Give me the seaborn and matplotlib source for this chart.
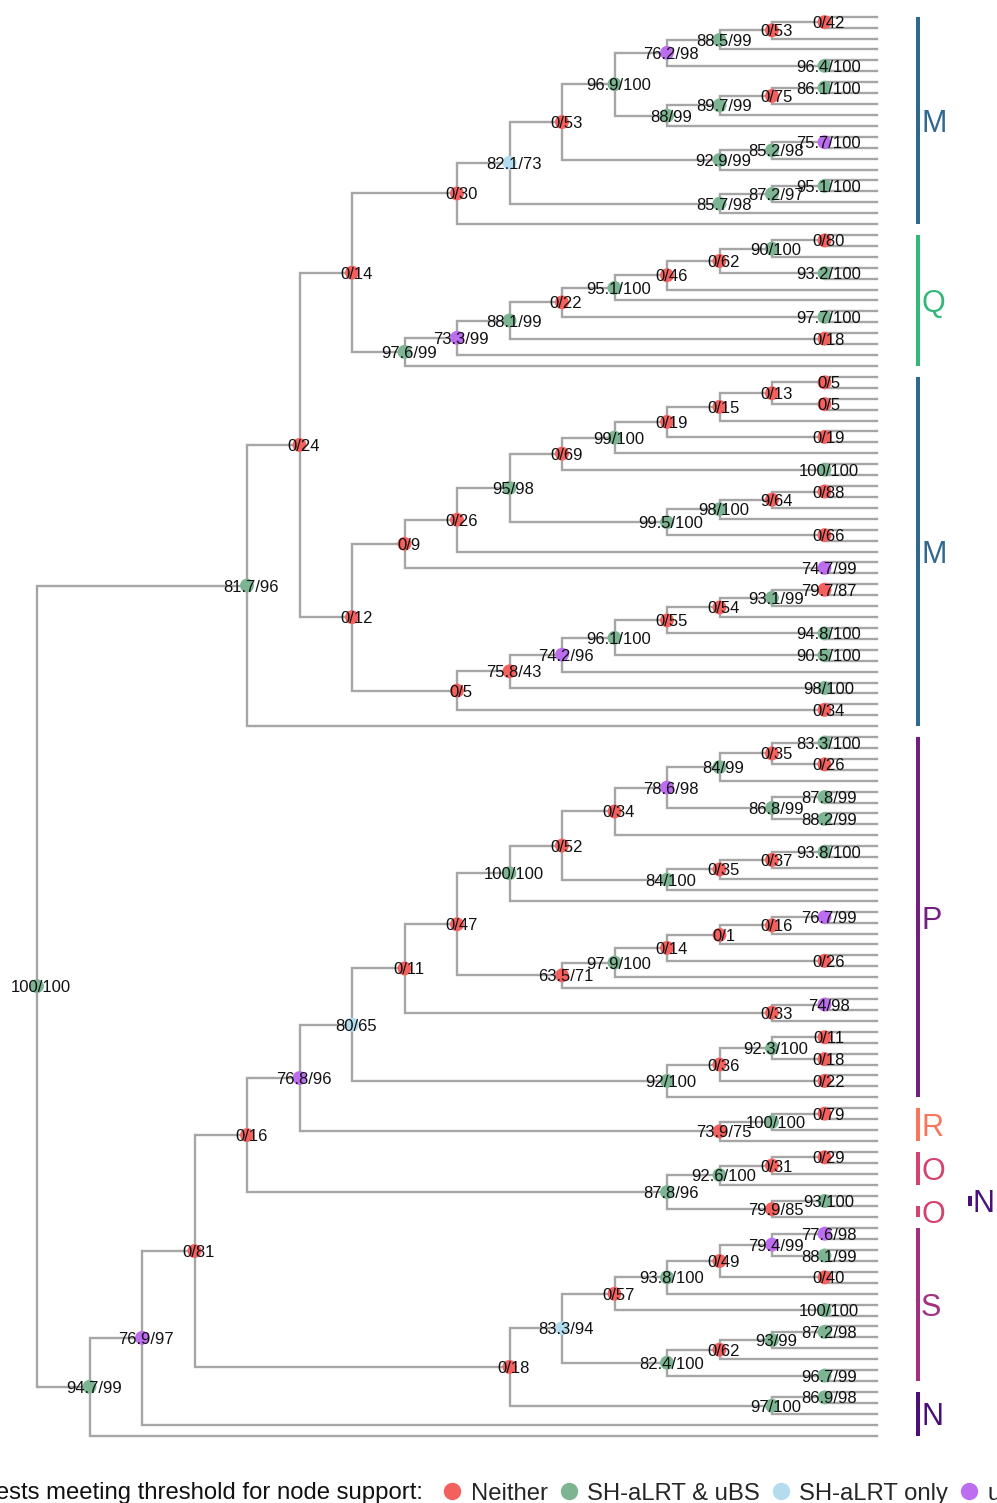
import matplotlib
matplotlib.use("Agg")
import matplotlib.pyplot as plt
from matplotlib.collections import LineCollection
from matplotlib.lines import Line2D
import seaborn as sns
import pandas as pd

# Subtrees in Newick form; internal node labels are "SH-aLRT/uBS" support values
CLADE_M1 = ("((((((((t,t)0/42,t)0/53,t)88.5/99,(t,t)96.4/100)76.2/98,"
            "((((t,t)86.1/100,t)0/75,t)89.7/99,t)88/99)96.9/100,"
            "(((t,t)75.7/100,t)85.2/98,t)92.9/99)0/53,"
            "(((t,t)95.1/100,t)87.2/97,t)85.7/98)82.1/73,t)0/30")
CLADE_Q = ("(((((((((t,t)0/80,t)90/100,(t,t)93.2/100)0/62,t)0/46,t)95.1/100,"
           "(t,t)97.7/100)0/22,(t,t)0/18)88.1/99,t)73.3/99,t)97.6/99")
CLADE_M2A = ("(((((((((t,t)0/5,(t,t)0/5)0/13,t)0/15,(t,t)0/19)0/19,t)99/100,"
             "(t,t)100/100)0/69,((((t,t)0/88,t)9/64,t)98/100,(t,t)0/66)99.5/100)95/98,"
             "t)0/26,(t,t)74.7/99)0/9")
CLADE_M2B = ("((((((((t,t)79.7/87,t)93.1/99,t)0/54,(t,t)94.8/100)0/55,"
             "(t,t)90.5/100)96.1/100,t)74.2/96,(t,t)98/100)75.8/43,(t,t)0/34)0/5")
CLADE_P1 = ("(((((((((t,t)83.3/100,(t,t)0/26)0/35,t)84/99,"
            "((t,t)87.8/99,(t,t)88.2/99)86.8/99)78.6/98,t)0/34,"
            "((((t,t)93.8/100,t)0/37,t)0/35,t)84/100)0/52,t)100/100,"
            "((((((t,t)76.7/99,t)0/16,t)0/1,(t,t)0/26)0/14,t)97.9/100,t)63.5/71)0/47,"
            "((t,t)74/98,t)0/33)0/11")
CLADE_P2 = "((((t,t)0/11,(t,t)0/18)92.3/100,(t,t)0/22)0/36,t)92/100"
CLADE_R = "(((t,t)0/79,t)100/100,t)73.9/75"
CLADE_O = "((((t,t)0/29,t)0/31,t)92.6/100,((t,t)93/100,t)79.9/85)87.8/96"
CLADE_S = ("(((((((t,t)77.6/98,(t,t)88.1/99)79.4/99,(t,t)0/40)0/49,t)93.8/100,"
           "(t,t)100/100)0/57,((((t,t)87.2/98,t)93/99,t)0/62,(t,t)96.7/99)82.4/100)83.3/94,"
           "((t,t)86.9/98,t)97/100)0/18")
BACKBONE = ("(((({M1},{Q})0/14,({M2A},{M2B})0/12)0/24,t)81.7/96,"
            "(((((({P1},{P2})80/65,{R})76.8/96,{O})0/16,{S})0/81,t)76.9/97,t)94.7/99)100/100")

# Clade strips beside the aligned tips (tip rows counted from the top)
STRIP_LABELS = ["M", "Q", "M", "P", "R", "O", "N", "O", "S", "N"]
STRIP_FIRST = [0, 20, 33, 66, 100, 104, 108, 109, 111, 126]
STRIP_LAST = [19, 32, 65, 99, 103, 107, 109, 110, 125, 130]
STRIP_COLORS = ["#31688E", "#35B779", "#31688E", "#721F81", "#F8765C",
                "#D3436E", "#4A1079", "#D3436E", "#A1307E", "#4A1079"]
STRIP_COLUMN = [0, 0, 0, 0, 0, 0, 1, 0, 0, 0]

SUPPORT_CLASSES = ["Neither", "SH-aLRT & uBS", "SH-aLRT only", "uBS only"]
SUPPORT_COLORS = ["#F4605E", "#7DB593", "#B3DCEE", "#BD6EF0"]
SH_ALRT_MIN = 80
UBS_MIN = 95
LEGEND_TITLE = "Tests meeting threshold for node support:"


def parse_newick(text):
    pos = 0

    def read_node():
        nonlocal pos
        children = []
        if text[pos] == "(":
            pos += 1
            while True:
                children.append(read_node())
                if text[pos] == ",":
                    pos += 1
                else:
                    pos += 1
                    break
        start = pos
        while pos < len(text) and text[pos] not in ",);":
            pos += 1
        return {"label": text[start:pos], "children": children}

    return read_node()


newick = BACKBONE.format(M1=CLADE_M1, Q=CLADE_Q, M2A=CLADE_M2A, M2B=CLADE_M2B,
                         P1=CLADE_P1, P2=CLADE_P2, R=CLADE_R, O=CLADE_O, S=CLADE_S)
root = parse_newick(newick)

# Cladogram layout: tips aligned, each node placed by its height above the tips
tips = []


def place(node):
    if not node["children"]:
        node["y"] = len(tips)
        node["h"] = 0
        tips.append(node)
        return
    for child in node["children"]:
        place(child)
    node["h"] = 1 + max(c["h"] for c in node["children"])
    node["y"] = sum(c["y"] for c in node["children"]) / len(node["children"])


place(root)
depth = root["h"]

segments = []
records = []


def collect(node):
    node["x"] = depth - node["h"]
    for child in node["children"]:
        child["x"] = depth - child["h"]
        segments.append([(node["x"], node["y"]), (node["x"], child["y"]),
                         (child["x"], child["y"])])
        collect(child)
    if node["children"]:
        sh, ubs = (float(v) for v in node["label"].split("/"))
        if sh >= SH_ALRT_MIN and ubs >= UBS_MIN:
            cls = SUPPORT_CLASSES[1]
        elif sh >= SH_ALRT_MIN:
            cls = SUPPORT_CLASSES[2]
        elif ubs >= UBS_MIN:
            cls = SUPPORT_CLASSES[3]
        else:
            cls = SUPPORT_CLASSES[0]
        records.append({"x": node["x"], "y": node["y"], "label": node["label"],
                        "support": cls})


collect(root)
nodes = pd.DataFrame(records)

sns.set_theme(style="white")
plt.rcParams["font.family"] = ["Liberation Sans", "DejaVu Sans"]

W, H = 997, 1503
fig = plt.figure(figsize=(W / 100, H / 100), dpi=100)
ax = fig.add_axes([0, 0, 1, 1])
ax.axis("off")

# pixel geometry of the drawing area
x0_px, step_x = 37.0, 52.5
y0_px, step_y = 16.7, 10.915
ax.set_xlim(-x0_px / step_x, (W - x0_px) / step_x)
ax.set_ylim((H - y0_px) / step_y, -y0_px / step_y)

ax.add_collection(LineCollection(segments, colors="#A6A6A6", linewidths=1.7,
                                 capstyle="projecting", joinstyle="miter", zorder=1))

palette = dict(zip(SUPPORT_CLASSES, SUPPORT_COLORS))
sns.scatterplot(data=nodes, x="x", y="y", hue="support", hue_order=SUPPORT_CLASSES,
                palette=palette, s=100, linewidth=0, legend=False, ax=ax, zorder=3)
ax.set_xlabel("")
ax.set_ylabel("")

for _, row in nodes.iterrows():
    ax.annotate(row["label"], (row["x"], row["y"]), xytext=(3, 0),
                textcoords="offset points", ha="center", va="center_baseline",
                fontsize=12, color="#111111", zorder=4)

# clade strips
strip_x = [depth + 0.78, depth + 1.77]
for lab, first, last, col, column in zip(STRIP_LABELS, STRIP_FIRST, STRIP_LAST,
                                          STRIP_COLORS, STRIP_COLUMN):
    sx = strip_x[column]
    ax.plot([sx, sx], [first, last], color=col, lw=2.9, solid_capstyle="butt", zorder=2)
    ax.annotate(lab, (sx, (first + last) / 2), xytext=(2.2, 0),
                textcoords="offset points", ha="left", va="center_baseline",
                fontsize=22, color=col)

# legend along the bottom edge
fig.text(423 / W, 1 - 1499.5 / H, LEGEND_TITLE, ha="right", va="baseline",
         fontsize=17.2, color="#111111")
handles = [Line2D([], [], marker="o", linestyle="", markersize=11.5,
                  markerfacecolor=c, markeredgecolor=c) for c in SUPPORT_COLORS]
fig.legend(handles, SUPPORT_CLASSES, loc="lower left",
           bbox_to_anchor=(440.2 / W, -0.001), ncol=4, frameon=False,
           borderpad=0, borderaxespad=0, handlelength=1.0, handletextpad=0.27,
           columnspacing=0.38, fontsize=17.2)

fig.savefig("out.png", dpi=100)
